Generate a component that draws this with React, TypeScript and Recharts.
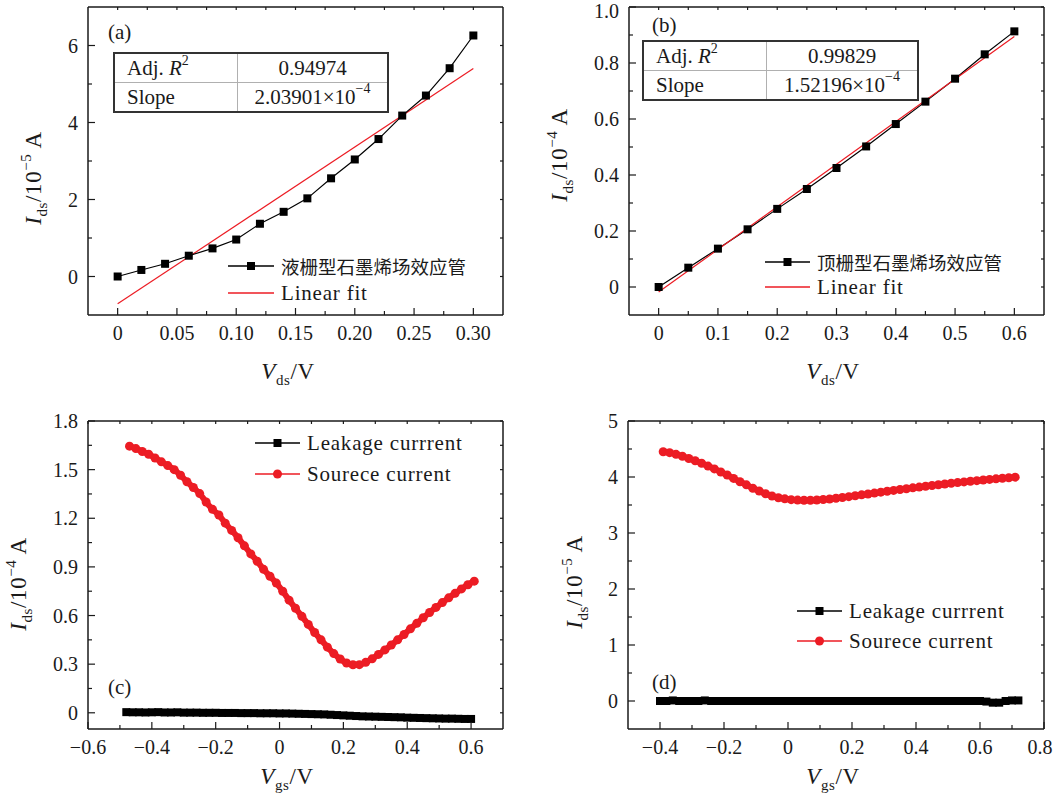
import React from 'react'
import { LineChart, Line, XAxis, YAxis } from 'recharts'

const SERIF = "'Liberation Serif', 'Times New Roman', serif"
const CJK = "'Noto Sans CJK SC', 'Noto Sans CJK JP', sans-serif"
const INK = '#1a1a1a'
const RED = '#ec1c24'

// (a) liquid-gated GFET output curve
const aVds = [0, 0.02, 0.04, 0.06, 0.08, 0.1, 0.12, 0.14, 0.16, 0.18, 0.2, 0.22, 0.24, 0.26, 0.28, 0.3]
const aIds = [0.0, 0.17, 0.33, 0.54, 0.73, 0.96, 1.37, 1.68, 2.03, 2.55, 3.04, 3.57, 4.18, 4.7, 5.41, 6.26]
const aFitV = [0, 0.3]
const aFitI = [-0.71, 5.4]

// (b) top-gated GFET output curve
const bVds = [0, 0.05, 0.1, 0.15, 0.2, 0.25, 0.3, 0.35, 0.4, 0.45, 0.5, 0.55, 0.6]
const bIds = [0.0, 0.069, 0.137, 0.206, 0.279, 0.35, 0.425, 0.502, 0.582, 0.662, 0.744, 0.831, 0.913]
const bFitV = [0, 0.6]
const bFitI = [-0.018, 0.895]

// (c) transfer curve, 10^-4 A
const cSrcV = [
  -0.47, -0.45, -0.43, -0.41, -0.39, -0.37, -0.35, -0.33, -0.31, -0.29, -0.27, -0.25, -0.23, -0.21,
  -0.19, -0.17, -0.15, -0.13, -0.11, -0.09, -0.07, -0.05, -0.03, -0.01, 0.01, 0.03, 0.05, 0.07, 0.09,
  0.11, 0.13, 0.15, 0.17, 0.19, 0.21, 0.23, 0.25, 0.27, 0.29, 0.31, 0.33, 0.35, 0.37, 0.39, 0.41,
  0.43, 0.45, 0.47, 0.49, 0.51, 0.53, 0.55, 0.57, 0.59, 0.61,
]
const cSrcI = [
  1.645, 1.63, 1.612, 1.595, 1.572, 1.548, 1.525, 1.5, 1.465, 1.425, 1.39, 1.352, 1.3, 1.255, 1.22,
  1.17, 1.125, 1.08, 1.03, 0.98, 0.935, 0.885, 0.842, 0.8, 0.75, 0.695, 0.645, 0.595, 0.545, 0.495,
  0.45, 0.405, 0.365, 0.332, 0.307, 0.296, 0.297, 0.311, 0.333, 0.36, 0.388, 0.418, 0.45, 0.483,
  0.518, 0.552, 0.586, 0.619, 0.65, 0.68, 0.709, 0.737, 0.764, 0.79, 0.812,
]
const cLeakV = [
  -0.48, -0.46, -0.44, -0.42, -0.4, -0.38, -0.36, -0.34, -0.32, -0.3, -0.28, -0.26, -0.24, -0.22, -0.2,
  -0.18, -0.16, -0.14, -0.12, -0.1, -0.08, -0.06, -0.04, -0.02, 0, 0.02, 0.04, 0.06, 0.08, 0.1, 0.12,
  0.14, 0.16, 0.18, 0.2, 0.22, 0.24, 0.26, 0.28, 0.3, 0.32, 0.34, 0.36, 0.38, 0.4, 0.42, 0.44, 0.46,
  0.48, 0.5, 0.52, 0.54, 0.56, 0.58, 0.6,
]
const cLeakI = [
  0.004, 0.003, 0.003, 0.002, 0.003, 0.004, 0.002, 0.002, 0.003, 0.001, 0.001, 0.001, 0.0, 0.0, 0.0,
  -0.001, -0.001, -0.001, -0.002, -0.002, -0.002, -0.003, -0.003, -0.003, -0.004, -0.004, -0.005,
  -0.006, -0.007, -0.008, -0.009, -0.01, -0.012, -0.014, -0.016, -0.018, -0.02, -0.022, -0.023,
  -0.024, -0.025, -0.026, -0.027, -0.028, -0.03, -0.031, -0.032, -0.033, -0.034, -0.035, -0.036,
  -0.036, -0.037, -0.038, -0.038,
]

// (d) transfer curve, 10^-5 A
const dSrcV = [
  -0.39, -0.37, -0.35, -0.33, -0.31, -0.29, -0.27, -0.25, -0.23, -0.21, -0.19, -0.17, -0.15, -0.13,
  -0.11, -0.09, -0.07, -0.05, -0.03, -0.01, 0.01, 0.03, 0.05, 0.07, 0.09, 0.11, 0.13, 0.15, 0.17, 0.19,
  0.21, 0.23, 0.25, 0.27, 0.29, 0.31, 0.33, 0.35, 0.37, 0.39, 0.41, 0.43, 0.45, 0.47, 0.49, 0.51,
  0.53, 0.55, 0.57, 0.59, 0.61, 0.63, 0.65, 0.67, 0.69, 0.71,
]
const dSrcI = [
  4.45, 4.435, 4.405, 4.37, 4.33, 4.29, 4.245, 4.195, 4.145, 4.09, 4.035, 3.975, 3.915, 3.86, 3.8,
  3.75, 3.7, 3.66, 3.63, 3.61, 3.595, 3.588, 3.584, 3.585, 3.59, 3.598, 3.608, 3.62, 3.634, 3.649,
  3.665, 3.681, 3.697, 3.713, 3.729, 3.745, 3.761, 3.776, 3.791, 3.806, 3.82, 3.834, 3.848, 3.862,
  3.875, 3.888, 3.9, 3.912, 3.924, 3.935, 3.946, 3.957, 3.967, 3.977, 3.987, 3.997,
]
const dLeakV = [
  -0.4, -0.38, -0.36, -0.34, -0.32, -0.3, -0.28, -0.26, -0.24, -0.22, -0.2, -0.18, -0.16, -0.14, -0.12,
  -0.1, -0.08, -0.06, -0.04, -0.02, 0, 0.02, 0.04, 0.06, 0.08, 0.1, 0.12, 0.14, 0.16, 0.18, 0.2, 0.22,
  0.24, 0.26, 0.28, 0.3, 0.32, 0.34, 0.36, 0.38, 0.4, 0.42, 0.44, 0.46, 0.48, 0.5, 0.52, 0.54, 0.56,
  0.58, 0.6, 0.62, 0.64, 0.66, 0.68, 0.7, 0.72,
]
const dLeakI = [
  0.0, 0.0, 0.01, 0.0, 0.0, 0.0, 0.0, 0.01, 0.0, 0.0, 0.0, 0.0, 0.0, 0.0, 0.0, 0.0, 0.0, 0.0, 0.0,
  0.0, 0.0, 0.0, 0.0, 0.0, 0.0, 0.0, 0.0, 0.0, 0.0, 0.0, 0.0, 0.0, 0.0, 0.0, 0.0, 0.0, 0.0, 0.0, 0.0,
  0.0, 0.0, 0.0, 0.0, 0.0, 0.0, 0.0, 0.0, 0.0, 0.0, 0.0, 0.0, -0.01, -0.03, -0.03, 0.0, 0.01, 0.01,
]

// tick positions and labels
const aXMajor = [0, 0.05, 0.1, 0.15, 0.2, 0.25, 0.3]
const aXLabels = ['0', '0.05', '0.10', '0.15', '0.20', '0.25', '0.30']
const aXMinor = [0.025, 0.075, 0.125, 0.175, 0.225, 0.275]
const aYMajor = [0, 2, 4, 6]
const aYLabels = ['0', '2', '4', '6']
const aYMinor = [1, 3, 5]

const bXMajor = [0, 0.1, 0.2, 0.3, 0.4, 0.5, 0.6]
const bXLabels = ['0', '0.1', '0.2', '0.3', '0.4', '0.5', '0.6']
const bXMinor = [0.05, 0.15, 0.25, 0.35, 0.45, 0.55]
const bYMajor = [0, 0.2, 0.4, 0.6, 0.8, 1.0]
const bYLabels = ['0', '0.2', '0.4', '0.6', '0.8', '1.0']
const bYMinor = [0.1, 0.3, 0.5, 0.7, 0.9]

const cXMajor = [-0.6, -0.4, -0.2, 0, 0.2, 0.4, 0.6]
const cXLabels = ['\u22120.6', '\u22120.4', '\u22120.2', '0', '0.2', '0.4', '0.6']
const cXMinor = [-0.5, -0.3, -0.1, 0.1, 0.3, 0.5]
const cYMajor = [0, 0.3, 0.6, 0.9, 1.2, 1.5, 1.8]
const cYLabels = ['0', '0.3', '0.6', '0.9', '1.2', '1.5', '1.8']
const cYMinor = [0.15, 0.45, 0.75, 1.05, 1.35, 1.65]

const dXMajor = [-0.4, -0.2, 0, 0.2, 0.4, 0.6, 0.8]
const dXLabels = ['\u22120.4', '\u22120.2', '0', '0.2', '0.4', '0.6', '0.8']
const dXMinor = [-0.3, -0.1, 0.1, 0.3, 0.5, 0.7]
const dYMajor = [0, 1, 2, 3, 4, 5]
const dYLabels = ['0', '1', '2', '3', '4', '5']
const dYMinor = [0.5, 1.5, 2.5, 3.5, 4.5]

const pairs = (xs: number[], ys: number[]) => xs.map((v, i) => ({ v, i: ys[i] }))

type Side = 'bottom' | 'top' | 'left' | 'right'
const tickFont = { fontFamily: SERIF, fontSize: 20, fill: INK }

// ticks point inward; labels only on the major ones; xMax keeps edge labels inside the svg
function makeTick(side: Side, majors: number[], labels?: string[], xMax = 9999) {
  return (props: any) => {
    const { x, y, payload } = props
    const k = majors.findIndex((m) => Math.abs(m - payload.value) < 1e-9)
    const len = side === 'top' || side === 'right' ? 3 : k >= 0 ? 7 : 4
    const txt = k >= 0 && labels ? labels[k] : null
    if (side === 'bottom')
      return (
        <g>
          <line x1={x} y1={y} x2={x} y2={y - len} stroke={INK} strokeWidth={1.2} />
          {txt && <text x={Math.min(x, xMax)} y={y + 25} textAnchor="middle" style={tickFont}>{txt}</text>}
        </g>
      )
    if (side === 'top') return <line x1={x} y1={y} x2={x} y2={y + len} stroke={INK} strokeWidth={1.2} />
    if (side === 'right') return <line x1={x} y1={y} x2={x - len} y2={y} stroke={INK} strokeWidth={1.2} />
    return (
      <g>
        <line x1={x} y1={y} x2={x + len} y2={y} stroke={INK} strokeWidth={1.2} />
        {txt && <text x={x - 10} y={Math.max(y + 7, 18)} textAnchor="end" style={tickFont}>{txt}</text>}
      </g>
    )
  }
}

const squareDot = (size: number) => (props: any) => {
  const { cx, cy, index } = props
  if (cx == null || cy == null) return <g key={index} />
  return <rect key={index} x={cx - size / 2} y={cy - size / 2} width={size} height={size} fill="#000" />
}

const AXIS = { stroke: INK, strokeWidth: 1.5 }

interface PanelProps {
  left: number
  top: number
  width: number
  height: number
  box: [number, number, number, number] // plot left, top, right, bottom (page px)
  xDomain: [number, number]
  yDomain: [number, number]
  xMajor: number[]
  xLabels: string[]
  xMinor: number[]
  yMajor: number[]
  yLabels: string[]
  yMinor: number[]
  children: React.ReactNode
}

function Panel(p: PanelProps) {
  const [pl, pt, pr, pb] = p.box
  const xt = [...p.xMajor, ...p.xMinor].sort((a, b) => a - b)
  const yt = [...p.yMajor, ...p.yMinor].sort((a, b) => a - b)
  const common = { type: 'number' as const, allowDataOverflow: true, interval: 0, tickSize: 0, tickMargin: 0, tickLine: false, axisLine: AXIS }
  return (
    <div style={{ position: 'absolute', left: p.left, top: p.top }}>
      <LineChart width={p.width} height={p.height} margin={{ top: 0, right: 0, bottom: 0, left: 0 }}>
        <XAxis xAxisId="b" dataKey="v" orientation="bottom" height={p.top + p.height - pb} domain={p.xDomain} ticks={xt}
          tick={makeTick('bottom', p.xMajor, p.xLabels, p.width - 14)} {...common} />
        <XAxis xAxisId="t" dataKey="v" orientation="top" height={pt - p.top} domain={p.xDomain} ticks={xt}
          tick={makeTick('top', p.xMajor)} {...common} />
        <YAxis yAxisId="l" orientation="left" width={pl - p.left} domain={p.yDomain} ticks={yt}
          tick={makeTick('left', p.yMajor, p.yLabels)} {...common} />
        <YAxis yAxisId="r" orientation="right" width={p.left + p.width - pr} domain={p.yDomain} ticks={yt}
          tick={makeTick('right', p.yMajor)} {...common} />
        {p.children}
      </LineChart>
    </div>
  )
}

const sub = { fontSize: 15, position: 'relative' as const, top: 6 }
const sup = { fontSize: 15, position: 'relative' as const, top: -10 }

function YTitle({ cx, cy, exp }: { cx: number; cy: number; exp: string }) {
  return (
    <div style={{ position: 'absolute', left: cx, top: cy, transform: 'translate(-50%, -50%) rotate(-90deg)', whiteSpace: 'nowrap', fontSize: 23, lineHeight: '26px', letterSpacing: 0.6 }}>
      <i>I</i><span style={sub}>ds</span>/10<span style={sup}>{'\u2212' + exp}</span> A
    </div>
  )
}

function XTitle({ cx, cy, name }: { cx: number; cy: number; name: string }) {
  return (
    <div style={{ position: 'absolute', left: cx, top: cy, transform: 'translate(-50%, -50%)', whiteSpace: 'nowrap', fontSize: 23, lineHeight: '26px', letterSpacing: 0.6 }}>
      <i>V</i><span style={sub}>{name}</span>/V
    </div>
  )
}

function Tag({ x, y, t }: { x: number; y: number; t: string }) {
  return <div style={{ position: 'absolute', left: x, top: y - 12, fontSize: 21, lineHeight: '24px' }}>{t}</div>
}

function FitTable({ left, top, width, split, r2, slope }: { left: number; top: number; width: number; split: number; r2: string; slope: string }) {
  const cell = { height: 28, display: 'flex', alignItems: 'center', fontSize: 21 }
  return (
    <div style={{ position: 'absolute', left, top, width, border: '2px solid #333', boxSizing: 'border-box', background: '#fff' }}>
      <div style={{ display: 'flex', borderBottom: '1.5px solid #b0b0b0' }}>
        <div style={{ ...cell, width: split - left, paddingLeft: 12, boxSizing: 'border-box', borderRight: '1.5px solid #b0b0b0' }}>
          Adj.&nbsp;<i>R</i><span style={{ fontSize: 14, position: 'relative', top: -7 }}>2</span>
        </div>
        <div style={{ ...cell, flex: 1, justifyContent: 'center' }}>{r2}</div>
      </div>
      <div style={{ display: 'flex' }}>
        <div style={{ ...cell, width: split - left, paddingLeft: 12, boxSizing: 'border-box', borderRight: '1.5px solid #b0b0b0' }}>Slope</div>
        <div style={{ ...cell, flex: 1, justifyContent: 'center' }}>
          {slope}&times;10<span style={{ fontSize: 14, position: 'relative', top: -8 }}>{'\u22124'}</span>
        </div>
      </div>
    </div>
  )
}

function LegendRow({ x1, x2, y, color, marker, label, cjk }: { x1: number; x2: number; y: number; color: string; marker: 'square' | 'circle' | 'none'; label: string; cjk?: boolean }) {
  const w = x2 - x1
  return (
    <div style={{ position: 'absolute', left: x1, top: y - 15, height: 30, display: 'flex', alignItems: 'center', whiteSpace: 'nowrap' }}>
      <svg width={w} height={12} style={{ display: 'block' }}>
        <line x1={0} y1={6} x2={w} y2={6} stroke={color} strokeWidth={1.4} />
        {marker === 'square' && <rect x={w / 2 - 4} y={2} width={8} height={8} fill="#000" />}
        {marker === 'circle' && <circle cx={w / 2} cy={6} r={4.5} fill={color} />}
      </svg>
      <span style={cjk ? { fontFamily: CJK, fontSize: 18.5, marginLeft: 7 } : { fontSize: 21, letterSpacing: 0.8, marginLeft: 7 }}>{label}</span>
    </div>
  )
}

export default function App() {
  return (
    <div style={{ position: 'absolute', left: 0, top: 0, width: 1054, height: 794, background: '#fff', fontFamily: SERIF, color: INK, overflow: 'hidden' }}>
      <Panel left={0} top={0} width={520} height={395} box={[88, 7, 503, 315]} xDomain={[-0.025, 0.325]} yDomain={[-1, 7]}
        xMajor={aXMajor} xLabels={aXLabels} xMinor={aXMinor} yMajor={aYMajor} yLabels={aYLabels} yMinor={aYMinor}>
        <Line xAxisId="b" yAxisId="l" data={pairs(aFitV, aFitI)} dataKey="i" stroke={RED} strokeWidth={1.2} dot={false} isAnimationActive={false} />
        <Line xAxisId="b" yAxisId="l" data={pairs(aVds, aIds)} dataKey="i" stroke="#000" strokeWidth={1.2} dot={squareDot(8)} isAnimationActive={false} />
      </Panel>
      <Panel left={520} top={0} width={534} height={395} box={[629, 7, 1044, 315]} xDomain={[-0.05, 0.65]} yDomain={[-0.1, 1.0]}
        xMajor={bXMajor} xLabels={bXLabels} xMinor={bXMinor} yMajor={bYMajor} yLabels={bYLabels} yMinor={bYMinor}>
        <Line xAxisId="b" yAxisId="l" data={pairs(bVds, bIds)} dataKey="i" stroke="#000" strokeWidth={1.2} dot={squareDot(8)} isAnimationActive={false} />
        <Line xAxisId="b" yAxisId="l" data={pairs(bFitV, bFitI)} dataKey="i" stroke={RED} strokeWidth={1.2} dot={false} isAnimationActive={false} />
      </Panel>
      <Panel left={0} top={395} width={520} height={399} box={[88, 421, 503, 729]} xDomain={[-0.6, 0.7]} yDomain={[-0.1, 1.8]}
        xMajor={cXMajor} xLabels={cXLabels} xMinor={cXMinor} yMajor={cYMajor} yLabels={cYLabels} yMinor={cYMinor}>
        <Line xAxisId="b" yAxisId="l" data={pairs(cLeakV, cLeakI)} dataKey="i" stroke="#000" strokeWidth={2} dot={squareDot(8)} isAnimationActive={false} />
        <Line xAxisId="b" yAxisId="l" data={pairs(cSrcV, cSrcI)} dataKey="i" type="monotone" stroke={RED} strokeWidth={6}
          dot={{ r: 4.5, fill: RED, stroke: 'none' }} isAnimationActive={false} />
      </Panel>
      <Panel left={520} top={395} width={534} height={399} box={[628, 421, 1044, 729]} xDomain={[-0.5, 0.8]} yDomain={[-0.5, 5]}
        xMajor={dXMajor} xLabels={dXLabels} xMinor={dXMinor} yMajor={dYMajor} yLabels={dYLabels} yMinor={dYMinor}>
        <Line xAxisId="b" yAxisId="l" data={pairs(dLeakV, dLeakI)} dataKey="i" stroke="#000" strokeWidth={2} dot={squareDot(8)} isAnimationActive={false} />
        <Line xAxisId="b" yAxisId="l" data={pairs(dSrcV, dSrcI)} dataKey="i" type="monotone" stroke={RED} strokeWidth={6}
          dot={{ r: 4.5, fill: RED, stroke: 'none' }} isAnimationActive={false} />
      </Panel>

      <Tag x={108} y={32} t="(a)" />
      <Tag x={652} y={25} t="(b)" />
      <Tag x={108} y={687} t="(c)" />
      <Tag x={652} y={682} t="(d)" />

      <FitTable left={113} top={52} width={276} split={236} r2="0.94974" slope="2.03901" />
      <FitTable left={642} top={40} width={277} split={765} r2="0.99829" slope="1.52196" />

      <LegendRow x1={228} x2={274} y={266} color="#000" marker="square" label="液栅型石墨烯场效应管" cjk />
      <LegendRow x1={228} x2={274} y={293} color={RED} marker="none" label="Linear fit" />
      <LegendRow x1={765} x2={810} y={262} color="#000" marker="square" label="顶栅型石墨烯场效应管" cjk />
      <LegendRow x1={765} x2={810} y={287} color={RED} marker="none" label="Linear fit" />
      <LegendRow x1={255} x2={300} y={443} color="#000" marker="square" label="Leakage currrent" />
      <LegendRow x1={255} x2={300} y={474} color={RED} marker="circle" label="Sourece current" />
      <LegendRow x1={797} x2={842} y={611} color="#000" marker="square" label="Leakage currrent" />
      <LegendRow x1={797} x2={842} y={641} color={RED} marker="circle" label="Sourece current" />

      <YTitle cx={35} cy={178} exp="5" />
      <YTitle cx={561} cy={155} exp="4" />
      <YTitle cx={20} cy={584} exp="4" />
      <YTitle cx={576} cy={582} exp="5" />
      <XTitle cx={288} cy={373} name="ds" />
      <XTitle cx={833} cy={373} name="ds" />
      <XTitle cx={287} cy={778} name="gs" />
      <XTitle cx={833} cy={778} name="gs" />
    </div>
  )
}
